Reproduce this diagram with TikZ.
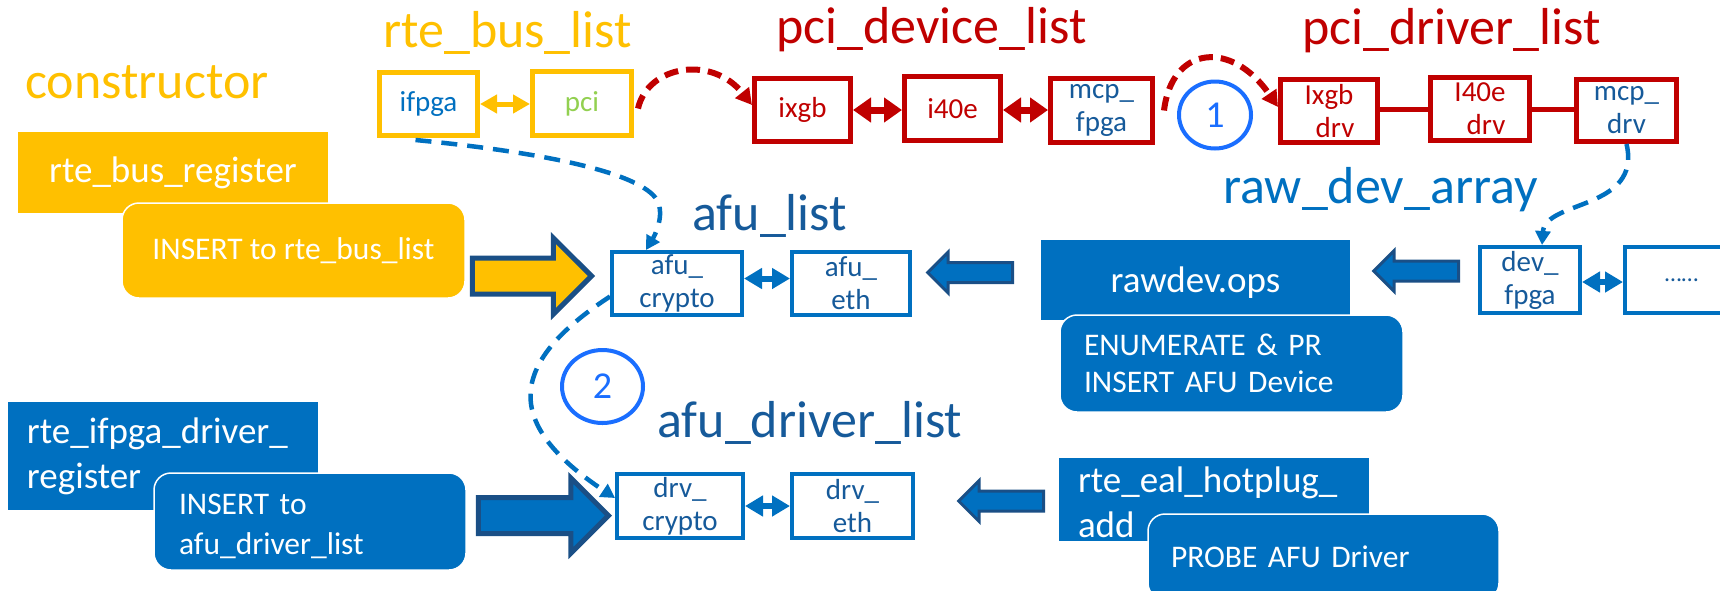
\documentclass[tikz,border=0pt]{standalone}
\usepackage{fontspec}
\setmainfont{Carlito}
\usetikzlibrary{arrows.meta,shapes.geometric,shapes.arrows,calc}

\definecolor{gold}{HTML}{FFC000}
\definecolor{darkred}{HTML}{C00000}
\definecolor{midblue}{HTML}{0070C0}
\definecolor{deepblue}{HTML}{165A9A}
\definecolor{navy}{HTML}{1A4F86}
\definecolor{brightblue}{HTML}{1A6EFF}
\definecolor{leaf}{HTML}{92D050}

\tikzset{
  title/.style={anchor=base west, inner sep=0pt, font=\fontsize{52}{56}\selectfont},
  lbox/.style={draw, line width=5pt, fill=white, inner sep=0pt, align=center,
               font=\fontsize{29}{33}\selectfont},
  bbox/.style={lbox, draw=midblue, line width=4pt, text=deepblue},
  rbox/.style={lbox, draw=darkred, text=darkred},
  headbox/.style={inner sep=0pt, text=white, font=\fontsize{37}{45}\selectfont},
  notebox/.style={draw=white, line width=1.5pt, rounded corners=17pt, text=white,
                  inner sep=0pt, font=\fontsize{31.5}{38}\selectfont},
  blockarrow/.style={single arrow, draw=navy, inner sep=0pt, single arrow tip angle=90},
  bigshaft/.style={text height=15.5pt, text depth=15.5pt, text width=0pt},
  smallshaft/.style={text height=8.5pt, text depth=8.5pt, text width=0pt},
  badge/.style={ellipse, draw=brightblue, line width=4pt, inner sep=0pt, text=brightblue,
                font=\fontsize{38}{40}\selectfont},
  ydbl/.style={gold, line width=5pt, {Triangle[length=17pt,width=18pt]}-{Triangle[length=17pt,width=18pt]}},
  rdbl/.style={darkred, line width=7pt, {Triangle[length=18pt,width=24pt]}-{Triangle[length=18pt,width=24pt]}},
  bdbl/.style={midblue, line width=6pt, {Triangle[length=18pt,width=20pt]}-{Triangle[length=18pt,width=20pt]}},
  rlink/.style={darkred, line width=5pt},
  rdash/.style={darkred, line width=6pt, dash pattern=on 14pt off 8pt, -{Triangle[length=16pt,width=17pt]}},
  bdash/.style={midblue, line width=4.5pt, dash pattern=on 16pt off 10pt, -{Triangle[length=14pt,width=15pt]}}
}

\begin{document}
\begin{tikzpicture}[x=1pt,y=-1pt]
\useasboundingbox (0,0) rectangle (1720,590);

% list titles
\node[title, text=gold]     (ctorTitle)   at (25,98)   {constructor};
\node[title, text=gold]     (busTitle)    at (383,47)  {rte\_bus\_list};
\node[title, text=darkred]  (devTitle)    at (776,43)  {pci\_device\_list};
\node[title, text=darkred]  (drvTitle)    at (1302,44) {pci\_driver\_list};
\node[title, text=deepblue] (afuTitle)    at (692,230) {afu\_list};
\node[title, text=midblue]  (rawTitle)    at (1223,203) {raw\_dev\_array};
\node[title, text=deepblue] (afuDrvTitle) at (657,437) {afu\_driver\_list};

% bus list
\node[lbox, draw=gold, text=midblue, minimum width=98pt, minimum height=63pt] (ifpga) at (428.5,104) {ifpga};
\node[lbox, draw=gold, text=leaf, minimum width=99pt, minimum height=64pt] (pci) at (582,103.5) {pci};

% pci device list
\node[rbox, minimum width=96pt, minimum height=63pt] (ixgb) at (802.5,110) {ixgb};
\node[rbox, minimum width=96pt, minimum height=64pt] (i40e) at (952.5,108.5) {i40e};
\node[rbox, text=deepblue, minimum width=102pt, minimum height=64pt] (mcpfpga) at (1101.5,110.5) {mcp\_\\fpga};

% pci driver list
\node[rbox, minimum width=97pt, minimum height=63pt] (ixgbdrv) at (1329,111) {Ixgb\\\hspace*{12pt}drv};
\node[rbox, minimum width=99pt, minimum height=63pt] (i40edrv) at (1480,109) {I40e\\\hspace*{12pt}drv};
\node[rbox, text=deepblue, minimum width=100pt, minimum height=62pt] (mcpdrv) at (1626.5,110.5) {mcp\_\\drv};

% afu list and raw device array
\node[bbox, minimum width=130pt, minimum height=63pt] (afucrypto) at (677,283.5) {afu\_\\crypto};
\node[bbox, minimum width=118pt, minimum height=63pt] (afueth) at (851,283.5) {afu\_\\eth};
\node[bbox, minimum width=100pt, minimum height=66pt] (devfpga) at (1530,280) {dev\_\\fpga};
\node[bbox, minimum width=113pt, minimum height=66pt, font=\fontsize{24}{28}\selectfont] (devmore) at (1681.5,280) {……};

% afu driver list
\node[bbox, minimum width=126pt, minimum height=64pt] (drvcrypto) at (680,506) {drv\_\\crypto};
\node[bbox, minimum width=121pt, minimum height=64pt] (drveth) at (852.5,506) {drv\_\\eth};

% registration boxes
\node[headbox, fill=gold, minimum width=310pt, minimum height=81pt] (busreg) at (173,172.5) {rte\_bus\_register};
\node[notebox, fill=gold, minimum width=343pt, minimum height=95pt] (insbus) at (293.5,250.5) {INSERT to rte\_bus\_list};

\node[headbox, fill=midblue, minimum width=310pt, minimum height=108pt, inner xsep=19pt,
      text width=272pt, align=left] (drvreg) at (163,456) {rte\_ifpga\_driver\_\\register};
\node[notebox, fill=midblue, minimum width=312pt, minimum height=97pt, inner xsep=25pt,
      text width=262pt, align=left, font=\fontsize{31.5}{40}\selectfont] (insdrv) at (310,521.5) {\rule{0pt}{30pt}INSERT to\\afu\_driver\_list};

\node[headbox, fill=midblue, minimum width=309pt, minimum height=80pt] (rawops) at (1195.5,280) {\rule{0pt}{31pt}rawdev.ops};
\node[notebox, fill=midblue, minimum width=343pt, minimum height=97pt, inner xsep=24pt,
      text width=295pt, align=left, font=\fontsize{31.5}{37}\selectfont] (enum) at (1231.5,363.5) {ENUMERATE \& PR\\INSERT AFU Device};

\node[headbox, fill=midblue, minimum width=310pt, minimum height=83pt, inner xsep=19pt,
      text width=272pt, align=left] (hotplug) at (1214,499.5) {\rule{0pt}{31pt}rte\_eal\_hotplug\_\\add};
\node[notebox, fill=midblue, minimum width=351pt, minimum height=86pt, inner xsep=23pt,
      text width=305pt, align=left] (probe) at (1323.5,557) {PROBE AFU Driver};

% block arrows
\node[blockarrow, bigshaft, fill=gold, line width=5pt, minimum height=119pt,
      single arrow head extend=20pt, anchor=tip] (toafu) at (595,276) {};
\node[blockarrow, bigshaft, fill=midblue, line width=5pt, minimum height=130pt,
      single arrow head extend=19.5pt, anchor=tip] (todrv) at (612,515.5) {};
\node[blockarrow, smallshaft, fill=midblue, line width=3pt, minimum height=85pt,
      single arrow head extend=10.5pt, shape border rotate=180, anchor=tip] (fromops) at (925.5,272.5) {};
\node[blockarrow, smallshaft, fill=midblue, line width=3pt, minimum height=85pt,
      single arrow head extend=10.5pt, shape border rotate=180, anchor=tip] (fromdev) at (1371.5,271) {};
\node[blockarrow, smallshaft, fill=midblue, line width=3pt, minimum height=85pt,
      single arrow head extend=10.5pt, shape border rotate=180, anchor=tip] (fromhot) at (956.5,501) {};

% step badges
\node[badge, minimum width=72pt, minimum height=67pt] (stepone) at (1215,115) {1};
\node[badge, minimum width=81pt, minimum height=73pt] (steptwo) at (602.5,386.5) {2};

% list links
\draw[ydbl] (ifpga.east) -- (ifpga.east -| pci.west);
\draw[rdbl] (ixgb.east) -- (ixgb.east -| i40e.west);
\draw[rdbl] ($(i40e.east)+(0,1.5)$) -- ($(i40e.east -| mcpfpga.west)+(0,1.5)$);
\draw[rlink] ($(ixgbdrv.east)+(0,-2)$) -- ($(ixgbdrv.east -| i40edrv.west)+(0,-2)$);
\draw[rlink] (i40edrv.east) -- (i40edrv.east -| mcpdrv.west);
\draw[bdbl] ($(afucrypto.east)+(0,-5)$) -- ($(afucrypto.east -| afueth.west)+(0,-5)$);
\draw[bdbl] ($(devfpga.east)+(0,2)$) -- ($(devfpga.east -| devmore.west)+(0,2)$);
\draw[bdbl] (drvcrypto.east) -- (drvcrypto.east -| drveth.west);

% lookups between lists
\draw[rdash] ($(pci.east)+(4,5)$) .. controls (648,65) and (712,55) .. ($(ixgb.west)+(0,-5)$);
\draw[rdash] ($(mcpfpga.east)+(9,0)$) .. controls (1172,45) and (1232,40) .. ($(ixgbdrv.west)+(0,-4)$);
\draw[bdash] ($(ifpga.south)+(-13,2)$) .. controls (540,152) and (640,172) .. (657,200)
             .. controls (665,215) and (655,235) .. ($(afucrypto.north)+(-31,0)$);
\draw[bdash] (mcpdrv.south) .. controls (1642,210) and (1545,200) .. ($(devfpga.north)+(12,0)$);
\draw[bdash] ($(afucrypto.west)+(0,13)$) .. controls (505,365) and (505,425) .. ($(drvcrypto.west)+(0,-8)$);

\end{tikzpicture}
\end{document}
